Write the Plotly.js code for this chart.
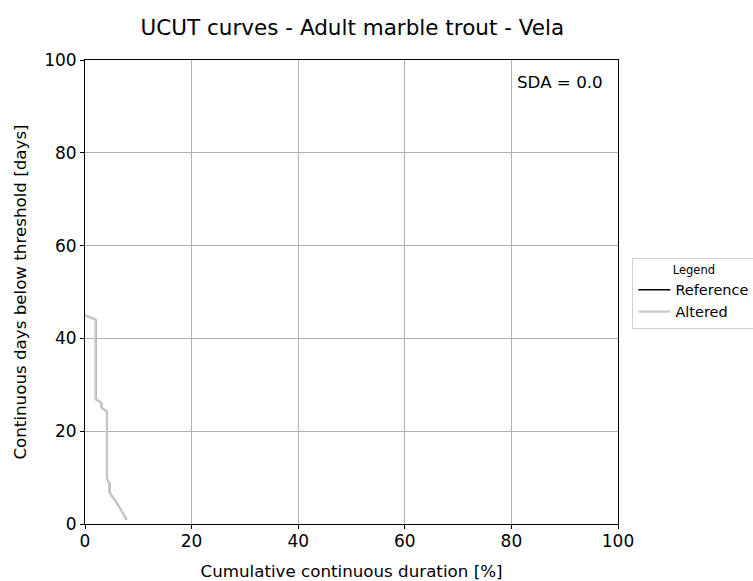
<!DOCTYPE html>
<html>
<head>
<meta charset="utf-8">
<script src="https://cdn.plot.ly/plotly-3.0.1.min.js"></script>
<style>
  html, body { margin: 0; padding: 0; background: #fff; }
  #chart { width: 753px; height: 581px; }
</style>
</head>
<body>
<div id="chart"></div>
<script>
// UCUT curve: cumulative continuous duration [%] vs continuous days below threshold
const refDuration = [0, 2.0, 2.0, 2.8, 3.1, 3.1, 4.1, 4.1, 4.6, 4.6, 6.2, 7.8];
const refDays     = [45.0, 44.0, 26.9, 26.4, 25.9, 25.1, 24.2, 9.8, 8.8, 6.8, 4.1, 1.0];
const altDuration = [0, 2.0, 2.0, 2.8, 3.1, 3.1, 4.1, 4.1, 4.6, 4.6, 6.2, 7.8];
const altDays     = [45.0, 44.0, 26.9, 26.4, 25.9, 25.1, 24.2, 9.8, 8.8, 6.8, 4.1, 1.0];
const sdaValue = 0.0;
const tickVals = [0, 20, 40, 60, 80, 100];

const font = "DejaVu Sans, Liberation Sans, sans-serif";

const traces = [
  {
    x: refDuration, y: refDays, name: "Reference", type: "scatter", mode: "lines",
    line: { color: "#000000", width: 1.5 }
  },
  {
    x: altDuration, y: altDays, name: "Altered", type: "scatter", mode: "lines",
    line: { color: "#c8c8c8", width: 2.2 }
  }
];

const axisCommon = {
  range: [0, 100],
  tickvals: tickVals,
  ticks: "outside",
  ticklen: 4,
  tickwidth: 1,
  tickcolor: "#000",
  showline: true,
  linecolor: "#000",
  linewidth: 1,
  mirror: true,
  showgrid: true,
  gridcolor: "#b0b0b0",
  gridwidth: 1,
  zeroline: false,
  tickfont: { family: font, size: 17, color: "#000" }
};

const layout = {
  width: 753, height: 581,
  margin: { l: 85, r: 135, t: 60, b: 57, autoexpand: false },
  paper_bgcolor: "#fff",
  plot_bgcolor: "#fff",
  font: { family: font, color: "#000" },
  title: {
    text: "UCUT curves - Adult marble trout - Vela",
    font: { family: font, size: 21.5, color: "#000" },
    x: 0.468, xanchor: "center", y: 0.953, yanchor: "middle"
  },
  xaxis: Object.assign({}, axisCommon, {
    ticklabelstandoff: -2,
    title: { text: "Cumulative continuous duration [%]", font: { family: font, size: 16.7 }, standoff: 14 }
  }),
  yaxis: Object.assign({}, axisCommon, {
    title: { text: "Continuous days below threshold [days]", font: { family: font, size: 16.7 }, standoff: 13 }
  }),
  showlegend: true,
  legend: {
    title: { text: "Legend", font: { family: font, size: 11.5 }, side: "top center" },
    x: 1.027, xanchor: "left", y: 0.497, yanchor: "middle",
    bordercolor: "#d0d0d0", borderwidth: 1, bgcolor: "#fff",
    font: { family: font, size: 14.5 },
    tracegroupgap: 0, itemwidth: 32
  },
  annotations: [{
    xref: "paper", yref: "paper", x: 0.975, y: 0.953, xanchor: "right", yanchor: "middle",
    text: "SDA = " + sdaValue.toFixed(1), showarrow: false,
    font: { family: font, size: 16.7, color: "#000" }
  }]
};

Plotly.newPlot("chart", traces, layout, { staticPlot: true, displayModeBar: false });
</script>
</body>
</html>
